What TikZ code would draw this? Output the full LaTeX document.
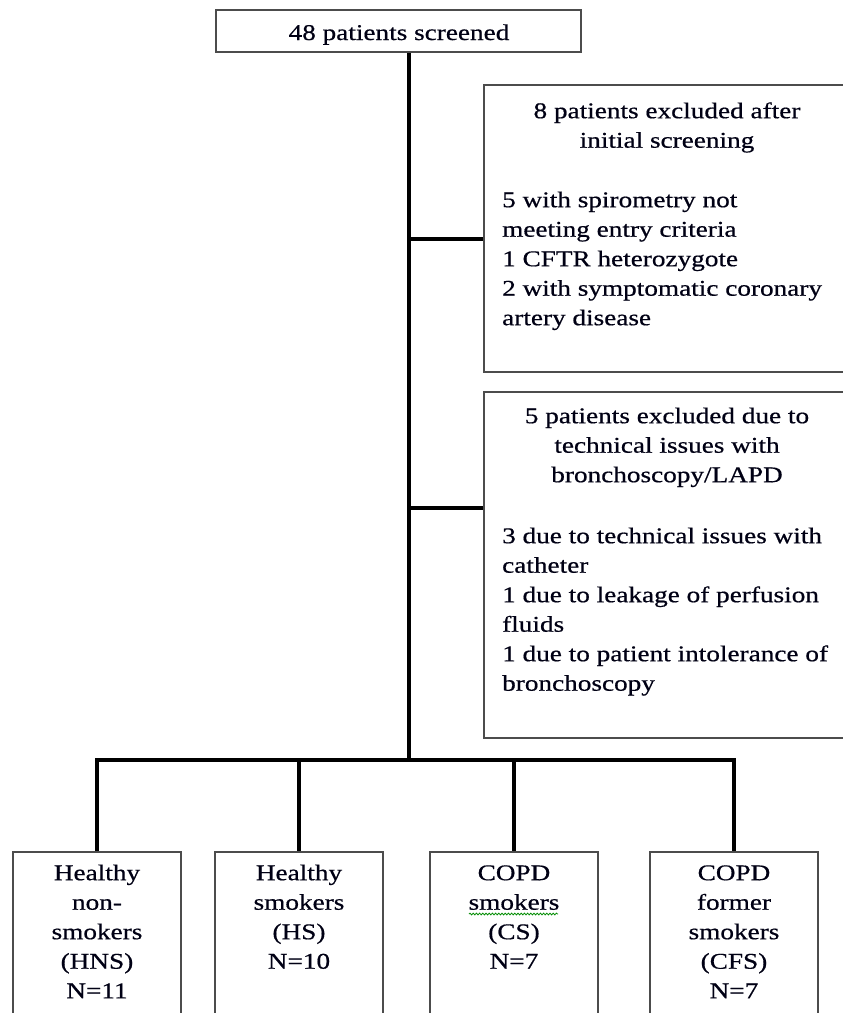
\documentclass[tikz,border=0pt]{standalone}
\usepackage{fontspec}
\setmainfont{Liberation Serif}[FakeStretch=1.21,FakeBold=0.6]
\usetikzlibrary{decorations.pathmorphing}
\begin{document}
\begin{tikzpicture}[x=1pt,y=-1pt,
  box/.style={draw=black!70, line width=1.6pt, fill=white, inner sep=0pt},
  conn/.style={draw=black, line width=3.4pt},
  txt/.style={inner sep=0pt, font=\fontsize{22.5}{29.5}\selectfont, text=black!92!blue}]
\useasboundingbox (0,0) rectangle (843,1013);
\clip (0,0) rectangle (843,1013);
% boxes
\node[box, minimum width=365pt, minimum height=42pt] (top) at (398.5,31) {};
\node[box, minimum width=366pt, minimum height=287pt] (ex1) at (667,228.5) {};
\node[box, minimum width=366pt, minimum height=346pt] (ex2) at (667,565) {};
\node[box, minimum width=168pt, minimum height=178pt] (A) at (97,941) {};
\node[box, minimum width=168pt, minimum height=178pt] (B) at (299,941) {};
\node[box, minimum width=168pt, minimum height=178pt] (C) at (514,941) {};
\node[box, minimum width=168pt, minimum height=178pt] (D) at (734,941) {};
% texts
\node[txt, anchor=base] (ttop) at (399,40) {48 patients screened};
\node[txt, align=center, anchor=north] (h1) at (667,97.35) {\strut 8 patients excluded after\\initial screening};
\node[txt, align=left, anchor=north west] (b1) at (502,186.35) {\strut 5 with spirometry not\\meeting entry criteria\\1 CFTR heterozygote\\2 with symptomatic coronary\\artery disease};
\node[txt, align=center, anchor=north] (h2) at (667,402.35) {\strut 5 patients excluded due to\\technical issues with\\bronchoscopy/LAPD};
\node[txt, align=left, anchor=north west] (b2) at (502,522.35) {\strut 3 due to technical issues with\\catheter\\1 due to leakage of perfusion\\fluids\\1 due to patient intolerance of\\bronchoscopy};
\node[txt, align=center, anchor=north] (tA) at (97,859.35) {\strut Healthy\\non-\\smokers\\(HNS)\\N=11};
\node[txt, align=center, anchor=north] (tB) at (299,859.35) {\strut Healthy\\smokers\\(HS)\\N=10};
\node[txt, align=center, anchor=north] (tC) at (514,859.35) {\strut COPD\\smokers\\(CS)\\N=7};
\node[txt, align=center, anchor=north] (tD) at (734,859.35) {\strut COPD\\former\\smokers\\(CFS)\\N=7};
% spell-check squiggle
\draw[green!55!black, line width=0.8pt, decorate, decoration={snake, amplitude=0.9pt, segment length=3.2pt}] (469,914) -- (558,914);
% connectors
\coordinate (bar) at (409,760);
\coordinate (j1) at (409,239);
\coordinate (j2) at (409,508);
\draw[conn] (top.south -| bar) -- (bar);
\draw[conn] (j1) -- (j1 -| ex1.west);
\draw[conn] (j2) -- (j2 -| ex2.west);
\draw[conn] (A.north) |- (bar) -| (D.north);
\draw[conn] (bar -| B.north) -- (B.north);
\draw[conn] (bar -| C.north) -- (C.north);
\end{tikzpicture}
\end{document}
